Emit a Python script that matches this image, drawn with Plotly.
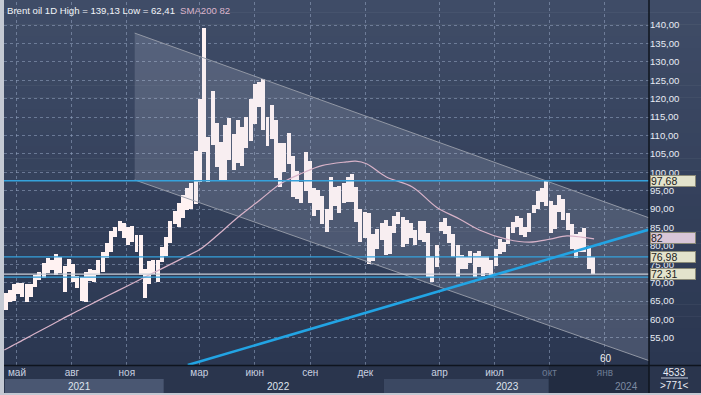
import plotly.graph_objects as go
import pandas as pd

# ---------------- data ----------------
# weekly high / low of Brent, weeks starting 2021-04-12
week_high = [
    67.2, 67.9, 69.6,
    69.9, 69.8, 69.6, 69.6, 72.0,
    73.0, 75.3, 76.6, 76.2,
    77.8, 76.9, 74.4, 76.5,
    75.1, 71.9, 71.5, 72.8, 73.8,
    73.5, 76.2, 78.3, 80.8,
    84.0, 85.1, 86.7, 86.1,
    85.0, 85.5, 82.9, 82.9, 73.7,
    76.0, 76.1, 76.2, 79.6,
    82.4, 86.7, 89.5, 91.7, 93.7,
    95.6, 97.0, 105.8, 119.8,
    139.1, 109.6, 122.0, 113.5,
    108.2, 112.9, 114.8, 110.5,
    114.3, 112.4, 114.9, 120.0, 124.0,
    124.4, 125.2, 114.9, 118.2,
    114.1, 107.9, 108.0, 110.7,
    104.5, 100.3, 97.4, 105.6, 103.0,
    95.6, 95.1, 93.6, 90.1,
    98.8, 96.0, 96.3, 97.2, 98.7,
    99.6, 96.1, 90.0, 89.3,
    88.9, 83.3, 84.5, 86.1,
    87.0, 85.4, 88.2, 89.1, 87.8,
    86.9, 86.3, 84.2, 86.7,
    86.8, 83.5, 77.3, 80.3,
    86.4, 87.5, 85.4, 83.3,
    80.1, 77.6, 77.0, 78.5, 78.0,
    78.7, 77.3, 77.3, 76.1,
    79.0, 81.8, 81.0, 85.0, 86.6,
    88.1, 87.5, 85.2, 89.0,
    91.2, 94.9, 95.6, 97.7,
    92.1, 91.0, 93.8, 92.7, 88.8,
    86.0, 83.1, 83.8, 84.9,
    79.7, 77.0,
]
week_low = [
    62.6, 64.8, 64.9,
    67.0, 66.2, 64.6, 66.0, 68.9,
    70.6, 71.3, 72.7, 73.4,
    72.1, 72.6, 67.4, 72.9,
    70.1, 68.5, 65.0, 64.6, 70.5,
    70.3, 72.2, 73.0, 76.7,
    78.2, 82.4, 83.9, 82.1,
    80.1, 80.9, 78.2, 72.1, 65.7,
    69.5, 72.4, 70.2, 75.6,
    77.3, 80.8, 85.9, 85.2, 87.5,
    89.8, 90.1, 91.3, 97.4,
    105.6, 97.4, 107.5, 101.5,
    98.0, 97.6, 103.3, 100.5,
    102.6, 101.6, 106.7, 108.5, 113.1,
    117.7, 111.6, 107.0, 109.0,
    98.5, 96.0, 100.0, 102.3,
    93.2, 92.8, 91.5, 95.0, 91.5,
    88.0, 89.6, 85.9, 83.65,
    87.0, 90.9, 89.0, 91.6, 91.8,
    91.8, 86.6, 81.0, 82.0,
    75.1, 76.0, 79.0, 81.5,
    77.6, 77.9, 83.4, 85.9, 79.7,
    80.5, 82.2, 80.1, 81.7,
    80.9, 71.4, 70.1, 74.3,
    84.0, 83.2, 80.7, 77.0,
    71.4, 73.8, 73.8, 75.2, 71.4,
    74.3, 71.7, 72.7, 71.9,
    74.6, 77.7, 78.3, 80.6, 83.4,
    85.0, 83.0, 82.3, 83.8,
    88.9, 90.0, 92.0, 90.9,
    83.5, 84.5, 89.1, 87.0, 84.2,
    79.2, 76.6, 78.3, 78.4,
    73.8, 72.3,
]
week_dates = pd.date_range("2021-04-14", periods=len(week_high), freq="7D")

sma_dates = ["2021-04-12", "2021-05-03", "2021-06-01", "2021-07-01", "2021-08-02",
             "2021-09-01", "2021-10-01", "2021-11-01", "2021-12-01", "2022-01-03",
             "2022-02-01", "2022-03-01", "2022-04-01", "2022-05-02", "2022-06-09",
             "2022-07-15", "2022-08-19", "2022-09-20", "2022-10-31", "2022-11-15",
             "2022-12-03", "2023-01-05", "2023-02-17", "2023-03-29", "2023-05-06",
             "2023-06-08", "2023-07-23", "2023-08-30", "2023-10-03", "2023-10-31",
             "2023-11-26", "2023-12-15"]
sma_values = [51.7, 53.5, 56.1, 58.7, 61.5,
              64.0, 66.5, 69.0, 71.5, 74.2,
              76.6, 78.9, 83.0, 87.5, 92.4,
              97.0, 99.8, 101.8, 102.8, 103.0,
              102.3, 98.7, 96.0, 90.5, 87.3,
              84.3, 81.8, 81.0, 81.8, 82.7,
              82.3, 81.9]

channel_dates = ["2021-11-14", "2024-03-15"]
channel_upper = [137.8, 87.6]
channel_lower = [97.9, 48.8]

trend_dates = ["2022-02-10", "2024-03-15"]
trend_values = [47.6, 84.4]

blue_levels = [97.68, 76.98, 71.5]
white_level = 72.31

label_values = [97.68, 82.0, 76.98, 72.31]
label_texts = ["97,68", "82", "76,98", "72,31"]
label_colors = ["#e3e3cc", "#d8c6d8", "#e3e3cc", "#e3e3cc"]

y_ticks = list(range(55, 145, 5))
y_ticktext = [f"{v},00" for v in y_ticks]

month_ticks = ["2021-05-03", "2021-08-02", "2021-11-01", "2022-03-01", "2022-06-01",
               "2022-09-01", "2022-12-01", "2023-04-03", "2023-07-03", "2023-10-02",
               "2024-01-02"]
month_text = ["май", "авг", "ноя", "мар", "июн", "сен", "дек", "апр", "июл",
              "<span style='color:#6c7a92'>окт</span>",
              "<span style='color:#6c7a92'>янв</span>"]

year_labels = ["2021", "2022", "2023", "2024"]
year_pos = ["2021-08-15", "2022-07-10", "2023-07-25", "2024-02-07"]

x_range = ["2021-04-11 12:00", "2024-03-15"]
y_range = [47.61, 146.25]

# ---------------- figure ----------------
W, H = 701, 395
ML, MR, MT, MB = 4, 52, 2, 30
pw, ph = W - ML - MR, H - MT - MB

def px_x(p):
    return (p - ML) / pw

def px_y(p):
    return (H - MB - p) / ph

def date_frac(d):
    t0 = pd.Timestamp(x_range[0]); t1 = pd.Timestamp(x_range[1])
    return (pd.Timestamp(d) - t0) / (t1 - t0)

fig = go.Figure()

# channel
fig.add_trace(go.Scatter(
    x=[channel_dates[0], channel_dates[1], channel_dates[1], channel_dates[0]],
    y=[channel_upper[0], channel_upper[1], channel_lower[1], channel_lower[0]],
    fill="toself", fillcolor="rgba(215,220,235,0.17)", mode="lines",
    line=dict(width=0), hoverinfo="skip"))
for edge in (channel_upper, channel_lower):
    fig.add_trace(go.Scatter(x=channel_dates, y=edge, mode="lines",
                             line=dict(color="rgba(150,155,168,0.95)", width=1)))

# price bars (weekly high-low ranges)
fig.add_trace(go.Bar(
    x=week_dates, y=[h - l for h, l in zip(week_high, week_low)], base=week_low,
    width=6.6 * 86400000, marker=dict(color="#fff2f2", line=dict(width=0))))

# SMA200
fig.add_trace(go.Scatter(x=sma_dates, y=sma_values, mode="lines", line_shape="spline",
                         line=dict(color="#d9b3c9", width=1.2)))

# horizontal levels
for v in blue_levels:
    fig.add_trace(go.Scatter(x=x_range, y=[v, v], mode="lines",
                             line=dict(color="#35a2dc", width=1.3)))
fig.add_trace(go.Scatter(x=x_range, y=[white_level, white_level], mode="lines",
                         line=dict(color="#c9ced8", width=1.3)))

# trend line
fig.add_trace(go.Scatter(x=trend_dates, y=trend_values, mode="lines",
                         line=dict(color="#22a4e4", width=2.6)))

shapes = []
# background gradient
top = (63, 76, 103); bot = (43, 55, 81)
n = 30
y_top_px, y_bot_px = 0, H - MB
for i in range(n):
    a = i / (n - 1)
    c = tuple(round(top[k] + (bot[k] - top[k]) * a) for k in range(3))
    y0 = y_top_px + (y_bot_px - y_top_px) * i / n
    y1 = y_top_px + (y_bot_px - y_top_px) * (i + 1) / n + 0.5
    shapes.append(dict(type="rect", xref="paper", yref="paper", layer="below",
                       x0=px_x(4), x1=px_x(701), y0=px_y(y1), y1=px_y(y0),
                       fillcolor="rgb(%d,%d,%d)" % c, line=dict(width=0)))
# bottom bar
shapes.append(dict(type="rect", xref="paper", yref="paper", layer="below",
                   x0=px_x(4), x1=px_x(701), y0=px_y(393), y1=px_y(365),
                   fillcolor="#2a354d", line=dict(width=0)))
shapes.append(dict(type="rect", xref="paper", yref="paper", layer="below",
                   x0=px_x(5), x1=date_frac("2022-01-01"), y0=px_y(393), y1=px_y(379),
                   fillcolor="#4a5772", line=dict(width=0)))
shapes.append(dict(type="rect", xref="paper", yref="paper", layer="below",
                   x0=date_frac("2023-01-01"), x1=date_frac("2023-10-01"), y0=px_y(393), y1=px_y(379),
                   fillcolor="#3b4862", line=dict(width=0)))
shapes.append(dict(type="rect", xref="paper", yref="paper", layer="below",
                   x0=date_frac("2023-10-01"), x1=1, y0=px_y(393), y1=px_y(366),
                   fillcolor="#222c41", line=dict(width=0)))
# axis separators
shapes.append(dict(type="line", xref="paper", yref="paper",
                   x0=px_x(4), x1=px_x(701), y0=px_y(365.5), y1=px_y(365.5),
                   line=dict(color="#0f141e", width=1.5)))
shapes.append(dict(type="line", xref="paper", yref="paper",
                   x0=1, x1=1, y0=px_y(393), y1=px_y(0),
                   line=dict(color="#0f141e", width=1.5)))
shapes.append(dict(type="line", xref="paper", yref="paper",
                   x0=px_x(661), x1=px_x(688), y0=px_y(378), y1=px_y(378),
                   line=dict(color="#c0c8d8", width=1)))

annotations = []
annotations.append(dict(xref="paper", yref="paper", x=px_x(5), y=px_y(3), xanchor="left",
                        yanchor="top", showarrow=False,
                        text="Brent oil 1D High = 139,13 Low = 62,41",
                        font=dict(size=9.6, color="#f2f4f8")))
annotations.append(dict(xref="paper", yref="paper", x=px_x(178), y=px_y(3), xanchor="left",
                        yanchor="top", showarrow=False, text="SMA200 82",
                        font=dict(size=9.6, color="#dcb4cc")))
for v, t, c in zip(label_values, label_texts, label_colors):
    annotations.append(dict(xref="paper", yref="y", x=1, y=v, xanchor="left", yanchor="middle",
                            xshift=1, showarrow=False, text=t, align="left", width=44, height=10,
                            bgcolor=c, bordercolor="#8a8a78", borderwidth=1, borderpad=0,
                            font=dict(size=10.5, color="#1c1c1c")))
for t, d in zip(year_labels, year_pos):
    annotations.append(dict(xref="x", yref="paper", x=d, y=px_y(386), showarrow=False,
                            xanchor="center", yanchor="middle", text=t,
                            font=dict(size=10, color="#7d8aa2" if t == "2024" else "#dfe4ee")))
annotations.append(dict(xref="paper", yref="paper", x=px_x(606), y=px_y(358), showarrow=False,
                        xanchor="center", yanchor="middle",
                        text="60", font=dict(size=10, color="#f0f0f0")))
annotations.append(dict(xref="paper", yref="paper", x=px_x(674), y=px_y(372), showarrow=False,
                        xanchor="center", yanchor="middle",
                        text="4533", font=dict(size=10, color="#e8ecf4")))
annotations.append(dict(xref="paper", yref="paper", x=px_x(674), y=px_y(385), showarrow=False,
                        xanchor="center", yanchor="middle",
                        text="&gt;771&lt;", font=dict(size=10, color="#e8ecf4")))

fig.update_layout(
    width=W, height=H, margin=dict(l=ML, r=MR, t=MT, b=MB, pad=0),
    paper_bgcolor="#c4c9d3", plot_bgcolor="rgba(0,0,0,0)",
    showlegend=False, bargap=0,
    font=dict(family="Liberation Sans, Arial, sans-serif", size=10, color="#dfe4ee"),
    shapes=shapes, annotations=annotations,
    xaxis=dict(type="date", range=x_range, tickvals=month_ticks, ticktext=month_text,
               showgrid=True, gridcolor="rgba(150,165,195,0.55)", griddash="dot",
               gridwidth=1, zeroline=False, showline=False, ticks="",
               tickfont=dict(size=10, color="#c9d1e0"), fixedrange=True),
    yaxis=dict(side="right", range=y_range, tickvals=y_ticks, ticktext=y_ticktext,
               showgrid=True, gridcolor="rgba(150,165,195,0.55)", griddash="dot",
               gridwidth=1, zeroline=False, showline=False, ticks="",
               tickfont=dict(size=9.6, color="#e8ecf4"), fixedrange=True),
)

fig.write_html("out.html", config={"displayModeBar": False},
               post_script="document.body.style.margin='0px';document.body.style.overflow='hidden';")
